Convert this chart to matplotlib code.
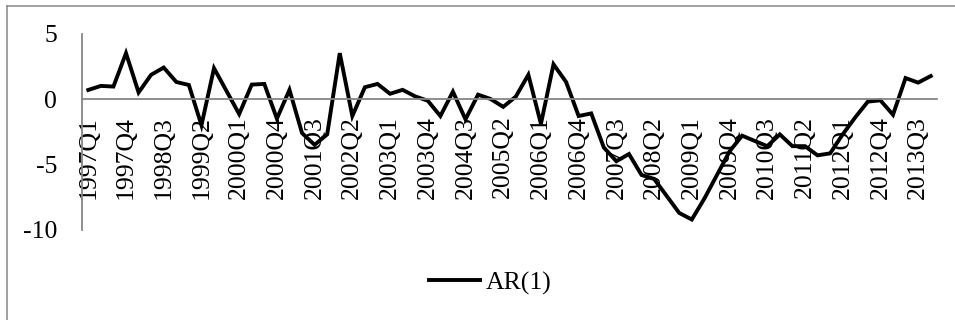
import matplotlib
matplotlib.use("Agg")
import matplotlib.pyplot as plt
from matplotlib.lines import Line2D

plt.rcParams['font.family'] = ['Liberation Serif', 'DejaVu Serif']
plt.rcParams['axes.unicode_minus'] = False

years = list(range(1997, 2014))
quarters = [f"{y}Q{q}" for y in years for q in range(1, 5)]

ar1 = [0.69, 1.0, 0.95, 3.5, 0.5, 1.85, 2.4, 1.3, 1.07, -2.0,
       2.35, 0.6, -1.15, 1.1, 1.15, -1.5, 0.7, -2.6, -3.5, -2.7,
       3.5, -1.3, 0.9, 1.15, 0.4, 0.7, 0.2, -0.13, -1.3, 0.56,
       -1.55, 0.33, 0.0, -0.6, 0.18, 1.85, -1.9, 2.65, 1.3, -1.3,
       -1.1, -3.7, -4.75, -4.2, -5.8, -6.1, -7.4, -8.7, -9.2, -7.6,
       -5.8, -4.0, -2.8, -3.2, -3.6, -2.7, -3.6, -3.6, -4.3, -4.15,
       -2.7, -1.4, -0.2, -0.1, -1.2, 1.6, 1.25, 1.75]

tick_labels = quarters[::3]
yticks = [-10, -5, 0, 5]

W, H = 955, 320
fig = plt.figure(figsize=(W / 100, H / 100), dpi=100)
ax = fig.add_axes([82 / W, (H - 230) / H, (937 - 82) / W, (230 - 33.5) / H])

x = list(range(len(ar1)))
ax.plot(x, ar1, color='black', linewidth=2.8, label='AR(1)', solid_joinstyle='miter')

ax.set_xlim(-0.5, len(ar1) - 0.5)
ax.set_ylim(-10, 5)

grey = '#868686'
for s in ['top', 'right']:
    ax.spines[s].set_visible(False)
ax.spines['bottom'].set_position(('data', 0))
ax.spines['bottom'].set_color(grey)
ax.spines['bottom'].set_linewidth(1.3)
ax.spines['left'].set_color(grey)
ax.spines['left'].set_linewidth(1.3)

ax.set_xticks(x[::3])
ax.set_xticklabels(tick_labels, rotation=90)
ax.set_yticks(yticks)
ax.tick_params(axis='x', length=0, pad=12, labelsize=18.5)
ax.tick_params(axis='y', length=0, pad=18, labelsize=18.5)

ax.legend(loc='center', bbox_to_anchor=(490 / W, 1 - 283 / H),
          bbox_transform=fig.transFigure, frameon=False, fontsize=18.5,
          handlelength=2.0, handletextpad=0.2)

# chart area border (left and top edges visible)
fig.add_artist(Line2D([6.5 / W, 6.5 / W], [0, 1 - 6 / H], transform=fig.transFigure,
                      color=grey, linewidth=1.1))
fig.add_artist(Line2D([6.5 / W, 1], [1 - 6 / H, 1 - 6 / H], transform=fig.transFigure,
                      color=grey, linewidth=1.1))

fig.savefig('out.png', dpi=100)
